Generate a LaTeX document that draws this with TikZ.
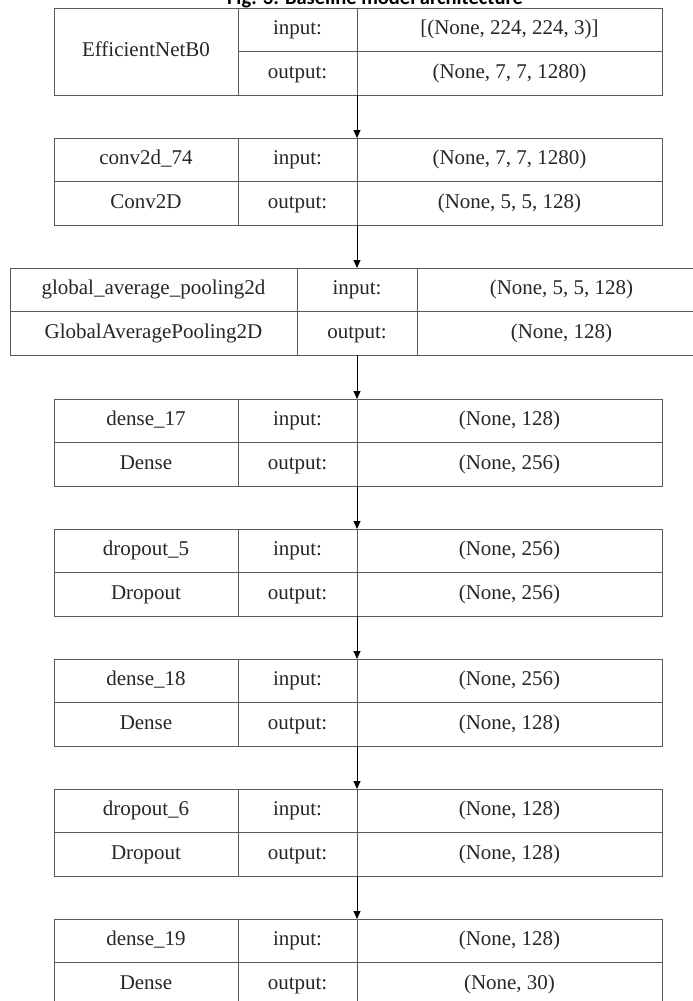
\documentclass[tikz,border=0pt]{standalone}
\usepackage{fontspec}
\setmainfont{Liberation Serif}
\newfontfamily\titlefont{Carlito}
\usetikzlibrary{arrows.meta}
\definecolor{bordergray}{HTML}{5A5A5A}
\definecolor{txt}{HTML}{262626}
\tikzset{
  cell/.style={draw=bordergray, line width=1pt, inner sep=0pt, outer sep=0pt,
    anchor=north west, minimum height=43.5pt, text=txt,
    text height=14pt, text depth=4.5pt,
    font=\fontsize{21}{24}\selectfont},
  bigcell/.style={cell, minimum height=87pt},
  flow/.style={draw=black, line width=0.9pt, -{Triangle[width=7pt,length=8pt]}},
  titletext/.style={font=\titlefont\bfseries\fontsize{20.5}{24}\selectfont, anchor=base, inner sep=0pt}
}
\begin{document}
\begin{tikzpicture}[x=1pt,y=-1pt]
\useasboundingbox (0,0) rectangle (693,1001);
\begin{scope}
\clip (0,0) rectangle (693,1001);
\node[titletext] (title) at (375,5) {Fig. 3: Baseline model architecture};

% Layer 1
\node[bigcell, minimum width=184pt] (n1) at (54,8) {EfficientNetB0};
\node[cell, minimum width=119pt] (io1a) at (238,8) {input:};
\node[cell, minimum width=119pt] (io1b) at (238,51.5) {output:};
\node[cell, minimum width=305pt] (v1a) at (357,8) {[(None, 224, 224, 3)]};
\node[cell, minimum width=305pt] (v1b) at (357,51.5) {(None, 7, 7, 1280)};

% Layer 2
\node[cell, minimum width=184pt] (n2a) at (54,138) {conv2d\_74};
\node[cell, minimum width=184pt] (n2b) at (54,181.5) {Conv2D};
\node[cell, minimum width=119pt] (io2a) at (238,138) {input:};
\node[cell, minimum width=119pt] (io2b) at (238,181.5) {output:};
\node[cell, minimum width=305pt] (v2a) at (357,138) {(None, 7, 7, 1280)};
\node[cell, minimum width=305pt] (v2b) at (357,181.5) {(None, 5, 5, 128)};

% Layer 3
\node[cell, minimum width=287pt] (n3a) at (10,268) {global\_average\_pooling2d};
\node[cell, minimum width=287pt] (n3b) at (10,311.5) {GlobalAveragePooling2D};
\node[cell, minimum width=120pt] (io3a) at (297,268) {input:};
\node[cell, minimum width=120pt] (io3b) at (297,311.5) {output:};
\node[cell, minimum width=289pt] (v3a) at (417,268) {(None, 5, 5, 128)};
\node[cell, minimum width=289pt] (v3b) at (417,311.5) {(None, 128)};

% Layer 4
\node[cell, minimum width=184pt] (n4a) at (54,399) {dense\_17};
\node[cell, minimum width=184pt] (n4b) at (54,442.5) {Dense};
\node[cell, minimum width=119pt] (io4a) at (238,399) {input:};
\node[cell, minimum width=119pt] (io4b) at (238,442.5) {output:};
\node[cell, minimum width=305pt] (v4a) at (357,399) {(None, 128)};
\node[cell, minimum width=305pt] (v4b) at (357,442.5) {(None, 256)};

% Layer 5
\node[cell, minimum width=184pt] (n5a) at (54,529) {dropout\_5};
\node[cell, minimum width=184pt] (n5b) at (54,572.5) {Dropout};
\node[cell, minimum width=119pt] (io5a) at (238,529) {input:};
\node[cell, minimum width=119pt] (io5b) at (238,572.5) {output:};
\node[cell, minimum width=305pt] (v5a) at (357,529) {(None, 256)};
\node[cell, minimum width=305pt] (v5b) at (357,572.5) {(None, 256)};

% Layer 6
\node[cell, minimum width=184pt] (n6a) at (54,659) {dense\_18};
\node[cell, minimum width=184pt] (n6b) at (54,702.5) {Dense};
\node[cell, minimum width=119pt] (io6a) at (238,659) {input:};
\node[cell, minimum width=119pt] (io6b) at (238,702.5) {output:};
\node[cell, minimum width=305pt] (v6a) at (357,659) {(None, 256)};
\node[cell, minimum width=305pt] (v6b) at (357,702.5) {(None, 128)};

% Layer 7
\node[cell, minimum width=184pt] (n7a) at (54,789) {dropout\_6};
\node[cell, minimum width=184pt] (n7b) at (54,832.5) {Dropout};
\node[cell, minimum width=119pt] (io7a) at (238,789) {input:};
\node[cell, minimum width=119pt] (io7b) at (238,832.5) {output:};
\node[cell, minimum width=305pt] (v7a) at (357,789) {(None, 128)};
\node[cell, minimum width=305pt] (v7b) at (357,832.5) {(None, 128)};

% Layer 8
\node[cell, minimum width=184pt] (n8a) at (54,919) {dense\_19};
\node[cell, minimum width=184pt] (n8b) at (54,962.5) {Dense};
\node[cell, minimum width=119pt] (io8a) at (238,919) {input:};
\node[cell, minimum width=119pt] (io8b) at (238,962.5) {output:};
\node[cell, minimum width=305pt] (v8a) at (357,919) {(None, 128)};
\node[cell, minimum width=305pt] (v8b) at (357,962.5) {(None, 30)};

% connectors
\draw[flow] (v1b.south west) -- (v2a.north west);
\draw[flow] (v2b.south west) -- (io3a.north);
\draw[flow] (io3b.south) -- (v4a.north west);
\draw[flow] (v4b.south west) -- (v5a.north west);
\draw[flow] (v5b.south west) -- (v6a.north west);
\draw[flow] (v6b.south west) -- (v7a.north west);
\draw[flow] (v7b.south west) -- (v8a.north west);
\end{scope}
\end{tikzpicture}
\end{document}
